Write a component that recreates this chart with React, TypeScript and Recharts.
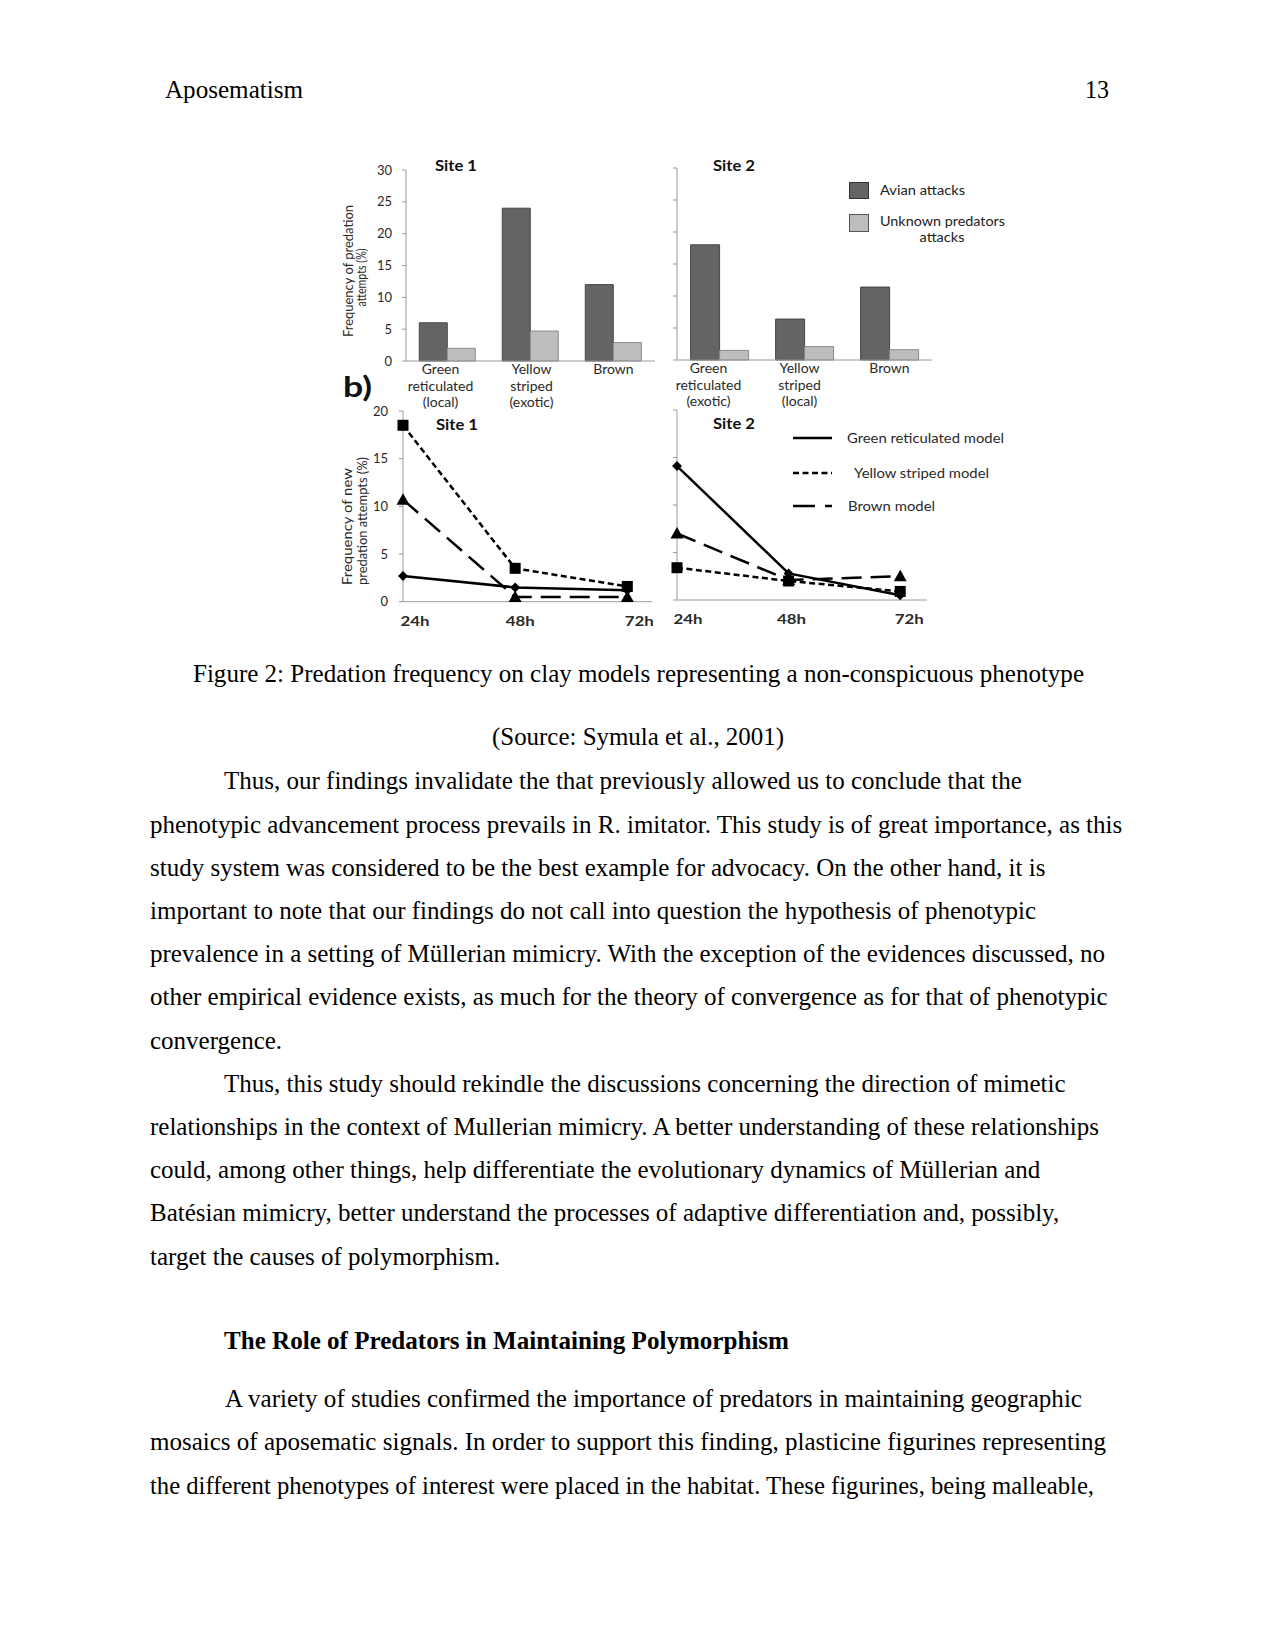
import React from 'react';
import { BarChart, Bar, XAxis, YAxis, LineChart, Line, Legend } from 'recharts';

// ---------- DATA ----------
const site1BarLabels = [["Green", "reticulated", "(local)"], ["Yellow", "striped", "(exotic)"], ["Brown"]];
const site2BarLabels = [["Green", "reticulated", "(exotic)"], ["Yellow", "striped", "(local)"], ["Brown"]];
const site1Avian = [6, 24, 12];
const site1Unknown = [2, 4.7, 2.9];
const site2Avian = [18, 6.4, 11.4];
const site2Unknown = [1.5, 2.1, 1.6];
const barTicks = [0, 5, 10, 15, 20, 25, 30];

const hours = ["24h", "48h", "72h"];
const site1Green = [2.7, 1.5, 1.2];
const site1Yellow = [18.5, 3.5, 1.6];
const site1Brown = [10.7, 0.5, 0.5];
const site2Green = [14.1, 2.8, 0.5];
const site2Yellow = [3.4, 2.0, 0.9];
const site2Brown = [7.0, 2.1, 2.5];
const lineTicks = [0, 5, 10, 15, 20];

const barLegend = ["Avian attacks", "Unknown predators", "attacks"];
const lineLegend = ["Green reticulated model", "Yellow striped model", "Brown model"];

const site1BarData = site1BarLabels.map((l, i) => ({ name: l.join(' '), avian: site1Avian[i], unknown: site1Unknown[i] }));
const site2BarData = site2BarLabels.map((l, i) => ({ name: l.join(' '), avian: site2Avian[i], unknown: site2Unknown[i] }));
const site1LineData = hours.map((h, i) => ({ x: i, label: h, green: site1Green[i], yellow: site1Yellow[i], brown: site1Brown[i] }));
const site2LineData = hours.map((h, i) => ({ x: i, label: h, green: site2Green[i], yellow: site2Yellow[i], brown: site2Brown[i] }));

// ---------- STYLE ----------
const SERIF = "'Liberation Serif', 'Times New Roman', serif";
const SANS = "Lato, 'Open Sans', sans-serif";
const AXIS = '#9a9a9a';
const LBL = '#2a2a2a';
const DARK = '#646464';
const LIGHT = '#bdbdbd';

type Ln = { t: string; x: number; y: number; w?: number; bold?: boolean };
const LS = 43.2;
const p1 = 789.3;
const pageLines: Ln[] = [
  { t: "Aposematism", x: 165, y: 98, w: 138 },
  { t: "13", x: 1085, y: 98, w: 24 },
  { t: "Figure 2: Predation frequency on clay models representing a non-conspicuous phenotype", x: 193, y: 682, w: 891 },
  { t: "(Source: Symula et al., 2001)", x: 492, y: 745, w: 292 },
  { t: "Thus, our findings invalidate the that previously allowed us to conclude that the", x: 224, y: p1 },
  { t: "phenotypic advancement process prevails in R. imitator. This study is of great importance, as this", x: 150, y: p1 + LS },
  { t: "study system was considered to be the best example for advocacy. On the other hand, it is", x: 150, y: p1 + LS * 2 },
  { t: "important to note that our findings do not call into question the hypothesis of phenotypic", x: 150, y: p1 + LS * 3 },
  { t: "prevalence in a setting of Müllerian mimicry. With the exception of the evidences discussed, no", x: 150, y: p1 + LS * 4 },
  { t: "other empirical evidence exists, as much for the theory of convergence as for that of phenotypic", x: 150, y: p1 + LS * 5 },
  { t: "convergence.", x: 150, y: p1 + LS * 6 },
  { t: "Thus, this study should rekindle the discussions concerning the direction of mimetic", x: 224, y: p1 + LS * 7 },
  { t: "relationships in the context of Mullerian mimicry. A better understanding of these relationships", x: 150, y: p1 + LS * 8 },
  { t: "could, among other things, help differentiate the evolutionary dynamics of Müllerian and", x: 150, y: p1 + LS * 9 },
  { t: "Batésian mimicry, better understand the processes of adaptive differentiation and, possibly,", x: 150, y: p1 + LS * 10 },
  { t: "target the causes of polymorphism.", x: 150, y: p1 + LS * 11 },
  { t: "The Role of Predators in Maintaining Polymorphism", x: 224, y: 1349, w: 565, bold: true },
  { t: "A variety of studies confirmed the importance of predators in maintaining geographic", x: 225, y: 1407, w: 857 },
  { t: "mosaics of aposematic signals. In order to support this finding, plasticine figurines representing", x: 150, y: 1450, w: 956 },
  { t: "the different phenotypes of interest were placed in the habitat. These figurines, being malleable,", x: 150, y: 1493.5, w: 944 },
];

type FigT = { t: string; x: number; y: number; w: number; size: number; bold?: boolean; rot?: boolean; fill?: string };
const figTexts: FigT[] = [
  { t: "Site 1", x: 456, y: 171, w: 42, size: 15, bold: true, fill: '#111' },
  { t: "Site 2", x: 734, y: 170.5, w: 42, size: 15, bold: true, fill: '#111' },
  { t: "Site 1", x: 457, y: 430, w: 42, size: 15, bold: true, fill: '#111' },
  { t: "Site 2", x: 734, y: 429, w: 42, size: 15, bold: true, fill: '#111' },
  { t: "b)", x: 357.5, y: 397, w: 29, size: 29, bold: true, fill: '#111' },
  { t: "Frequency of predation", x: 352.5, y: 271, w: 132, size: 13, rot: true },
  { t: "attempts (%)", x: 366, y: 277.5, w: 58, size: 13, rot: true },
  { t: "Frequency of new", x: 351.5, y: 526.5, w: 117, size: 13, rot: true },
  { t: "predation attempts (%)", x: 366.5, y: 521, w: 128, size: 13, rot: true },
];

// ---------- RENDER HELPERS ----------
const catTick = (labels: string[][], nudges: number[]) => (p: any) => {
  const i = p.index ?? 0;
  const lines = labels[i] || [];
  const cx = p.x + (nudges[i] || 0);
  return (
    <text key={`c${i}`} x={cx} y={p.y} textAnchor="middle" fontFamily={SANS} fontSize={14} fill={LBL}>
      {lines.map((l, k) => (
        <tspan key={k} x={cx} y={p.y + 13 + k * 16.5}>{l}</tspan>
      ))}
    </text>
  );
};

const hourTick = (nudges: number[]) => (p: any) => {
  const v = Math.round(Number(p.payload?.value ?? 0));
  const cx = p.x + (nudges[v] || 0);
  return (
    <text key={`h${v}`} x={cx} y={p.y + 24} textAnchor="middle" fontFamily={SANS} fontWeight={700}
      fontSize={13.5} fill={LBL} textLength={29} lengthAdjust="spacingAndGlyphs">{hours[v]}</text>
  );
};

const squareDot = (p: any) => (
  <rect key={`sq${p.index}`} x={p.cx - 5.5} y={p.cy - 5.5} width={11} height={11} fill="#000" />
);
const triDot = (p: any) => (
  <polygon key={`tr${p.index}`} points={`${p.cx},${p.cy - 6.5} ${p.cx + 6.5},${p.cy + 5} ${p.cx - 6.5},${p.cy + 5}`} fill="#000" />
);
const diaDot = (p: any) => (
  <polygon key={`di${p.index}`} points={`${p.cx},${p.cy - 5} ${p.cx + 5},${p.cy} ${p.cx},${p.cy + 5} ${p.cx - 5},${p.cy}`} fill="#000" />
);

const YELLOW_DASH = '6 3.5';
const BROWN_DASH = '20 9';

const BarLegendContent = () => (
  <svg width={200} height={70} style={{ display: 'block', overflow: 'visible' }}>
    <rect x={0.5} y={0.5} width={19} height={16} fill={DARK} stroke="#333" />
    <rect x={0.5} y={32.5} width={19} height={17} fill={LIGHT} stroke="#555" />
    <text x={31} y={12.5} fontFamily={SANS} fontSize={13.5} fill="#222" textLength={85} lengthAdjust="spacingAndGlyphs">{barLegend[0]}</text>
    <text x={31} y={43.5} fontFamily={SANS} fontSize={13.5} fill="#222" textLength={125} lengthAdjust="spacingAndGlyphs">{barLegend[1]}</text>
    <text x={93} y={59.5} textAnchor="middle" fontFamily={SANS} fontSize={13.5} fill="#222" textLength={45} lengthAdjust="spacingAndGlyphs">{barLegend[2]}</text>
  </svg>
);

const LineLegendContent = () => (
  <svg width={230} height={90} style={{ display: 'block', overflow: 'visible' }}>
    <line x1={0} x2={39} y1={8} y2={8} stroke="#000" strokeWidth={2.5} />
    <line x1={0} x2={39} y1={43} y2={43} stroke="#000" strokeWidth={2.5} strokeDasharray={YELLOW_DASH} />
    <line x1={0} x2={39} y1={76} y2={76} stroke="#000" strokeWidth={2.5} strokeDasharray="22 10 7 100" />
    <text x={54} y={12.5} fontFamily={SANS} fontSize={13.5} fill={LBL} textLength={157} lengthAdjust="spacingAndGlyphs">{lineLegend[0]}</text>
    <text x={61} y={47.5} fontFamily={SANS} fontSize={13.5} fill={LBL} textLength={135} lengthAdjust="spacingAndGlyphs">{lineLegend[1]}</text>
    <text x={55} y={80.5} fontFamily={SANS} fontSize={13.5} fill={LBL} textLength={87} lengthAdjust="spacingAndGlyphs">{lineLegend[2]}</text>
  </svg>
);

const abs = (left: number, top: number): React.CSSProperties => ({ position: 'absolute', left, top });

export default function App() {
  return (
    <div style={{ position: 'absolute', left: 0, top: 0, width: 1275, height: 1651, background: '#fff', overflow: 'hidden' }}>
      {/* Site 1 bars */}
      <div style={abs(330, 150)}>
        <BarChart width={340} height={261} data={site1BarData} margin={{ top: 20, right: 15, bottom: 0, left: 0 }}
          barCategoryGap="16%" barGap={0}>
          <XAxis dataKey="name" height={50} interval={0} tickLine={false} tickSize={0} tickMargin={0}
            axisLine={{ stroke: AXIS }} tick={catTick(site1BarLabels, [-7, 1, 0])} />
          <YAxis width={76} domain={[0, 30]} ticks={barTicks} interval={0} tickSize={4} tickMargin={10}
            axisLine={{ stroke: AXIS }} tickLine={{ stroke: AXIS }}
            tick={{ fontSize: 13, fill: LBL, fontFamily: SANS }} />
          <Bar dataKey="avian" fill={DARK} stroke="#474747" isAnimationActive={false} />
          <Bar dataKey="unknown" fill={LIGHT} stroke="#8a8a8a" isAnimationActive={false} />
        </BarChart>
      </div>

      {/* Site 2 bars */}
      <div style={abs(620, 150)}>
        <BarChart width={400} height={261} data={site2BarData} margin={{ top: 18, right: 88, bottom: 0, left: 0 }}
          barCategoryGap="16%" barGap={0}>
          <XAxis dataKey="name" height={51} interval={0} tickLine={false} tickSize={0} tickMargin={0}
            axisLine={{ stroke: AXIS }} tick={catTick(site2BarLabels, [-11, -5, 0])} />
          <YAxis width={57} domain={[0, 30]} ticks={barTicks} interval={0} tickSize={4} tickMargin={2}
            axisLine={{ stroke: AXIS }} tickLine={{ stroke: AXIS }} tickFormatter={() => ''}
            tick={{ fontSize: 11, fill: LBL, fontFamily: SANS }} />
          <Bar dataKey="avian" fill={DARK} stroke="#474747" isAnimationActive={false} />
          <Bar dataKey="unknown" fill={LIGHT} stroke="#8a8a8a" isAnimationActive={false} />
          <Legend layout="horizontal" verticalAlign="middle" align="center" content={BarLegendContent}
            wrapperStyle={{ left: 229, top: 32, width: 200, height: 70 }} />
        </BarChart>
      </div>

      {/* Site 1 lines */}
      <div style={abs(330, 395)}>
        <LineChart width={340} height={240} data={site1LineData} margin={{ top: 16, right: 18, bottom: 3.3, left: 0 }}>
          <XAxis type="number" dataKey="x" domain={[0, 2.22]} ticks={[0, 1, 2]} interval={0}
            height={30} tickLine={false} tickSize={0} tickMargin={0} axisLine={{ stroke: AXIS }}
            tick={hourTick([12, 5, 12])} />
          <YAxis width={73} domain={[0, 20]} ticks={lineTicks} interval={0} tickSize={4} tickMargin={11}
            axisLine={{ stroke: AXIS }} tickLine={{ stroke: AXIS }}
            tick={{ fontSize: 13, fill: LBL, fontFamily: SANS }} />
          <Line dataKey="green" stroke="#000" strokeWidth={2.5} dot={diaDot} activeDot={false} isAnimationActive={false} />
          <Line dataKey="brown" stroke="#000" strokeWidth={2.5} strokeDasharray={BROWN_DASH} dot={triDot} activeDot={false} isAnimationActive={false} />
          <Line dataKey="yellow" stroke="#000" strokeWidth={2.5} strokeDasharray={YELLOW_DASH} dot={squareDot} activeDot={false} isAnimationActive={false} />
        </LineChart>
      </div>

      {/* Site 2 lines */}
      <div style={abs(620, 395)}>
        <LineChart width={400} height={240} data={site2LineData} margin={{ top: 15, right: 93, bottom: 5, left: 0 }}>
          <XAxis type="number" dataKey="x" domain={[0, 2.24]} ticks={[0, 1, 2]} interval={0}
            height={30} tickLine={false} tickSize={0} tickMargin={0} axisLine={{ stroke: AXIS }}
            tick={hourTick([11, 3, 9])} />
          <YAxis width={57} domain={[0, 20]} ticks={lineTicks} interval={0} tickSize={4} tickMargin={2}
            axisLine={{ stroke: AXIS }} tickLine={{ stroke: AXIS }} tickFormatter={() => ''}
            tick={{ fontSize: 11, fill: LBL, fontFamily: SANS }} />
          <Line dataKey="green" stroke="#000" strokeWidth={2.5} dot={diaDot} activeDot={false} isAnimationActive={false} />
          <Line dataKey="brown" stroke="#000" strokeWidth={2.5} strokeDasharray={BROWN_DASH} dot={triDot} activeDot={false} isAnimationActive={false} />
          <Line dataKey="yellow" stroke="#000" strokeWidth={2.5} strokeDasharray={YELLOW_DASH} dot={squareDot} activeDot={false} isAnimationActive={false} />
          <Legend layout="horizontal" verticalAlign="middle" align="center" content={LineLegendContent}
            wrapperStyle={{ left: 173, top: 35, width: 230, height: 90 }} />
        </LineChart>
      </div>

      {/* Page text and figure annotations */}
      <svg width={1275} height={1651} style={{ position: 'absolute', left: 0, top: 0, pointerEvents: 'none' }}>
        {pageLines.map((l, i) => (
          <text key={i} x={l.x} y={l.y} fontFamily={SERIF} fontSize={25} fontWeight={l.bold ? 700 : 400} fill="#000"
            {...(l.w ? { textLength: l.w, lengthAdjust: 'spacingAndGlyphs' } : {})}>{l.t}</text>
        ))}
        {figTexts.map((f, i) => (
          <text key={`f${i}`} x={0} y={0} textAnchor="middle" fontFamily={SANS} fontSize={f.size}
            fontWeight={f.bold ? 700 : 400} fill={f.fill || LBL} textLength={f.w} lengthAdjust="spacingAndGlyphs"
            transform={f.rot ? `translate(${f.x},${f.y}) rotate(-90)` : `translate(${f.x},${f.y})`}>{f.t}</text>
        ))}
      </svg>
    </div>
  );
}
